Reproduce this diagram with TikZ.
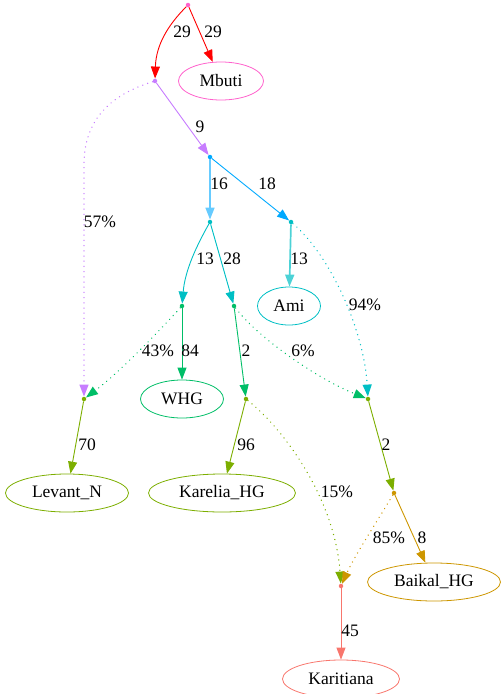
\documentclass[tikz,border=0pt]{standalone}
\usepackage{fontspec}
\setmainfont{Liberation Serif}
\usetikzlibrary{arrows.meta,shapes.geometric}
\definecolor{csalmon}{HTML}{F8766D}
\definecolor{cgold}{HTML}{CD9600}
\definecolor{colive}{HTML}{7CAE00}
\definecolor{cgreen}{HTML}{00BE67}
\definecolor{ccyan}{HTML}{00BFC4}
\definecolor{cblue}{HTML}{00A9FF}
\definecolor{cpurple}{HTML}{C77CFF}
\definecolor{cpink}{HTML}{FF61CC}
\begin{document}
\begin{tikzpicture}[x=1pt,y=-1pt,font=\fontsize{17.5}{20}\selectfont,
  pt/.style={circle,inner sep=0pt,minimum size=4.5pt},
  pop/.style={ellipse,draw,inner sep=0pt,minimum height=38pt,line width=0.8pt},
  edge/.style={line width=0.9pt,-{Triangle[length=12pt,width=9pt]}},
  wide/.style={line width=1.7pt},
  mix/.style={edge,dash pattern=on 0.2pt off 5pt,line cap=round,line width=1.3pt},
  lbl/.style={inner sep=0pt}]
\useasboundingbox (0,0) rectangle (501,694);
% The split points of the tree
\node[pt,fill=cpink] (R) at (188,5) {};
\node[pt,fill=cpurple] (n1) at (155,81) {};
\node[pt,fill=cblue] (n2) at (210,157) {};
\node[pt,fill=ccyan] (n3) at (210,222) {};
\node[pt,fill=ccyan] (n4) at (291,222) {};
\node[pt,fill=cgreen] (n5) at (182,306) {};
\node[pt,fill=cgreen] (n6) at (234,306) {};
\node[pt,fill=colive] (n7) at (84,399) {};
\node[pt,fill=colive] (n8) at (246,399) {};
\node[pt,fill=colive] (n9) at (368,399) {};
\node[pt,fill=cgold] (n10) at (394,493) {};
\node[pt,fill=csalmon] (n11) at (341,586) {};
% The populations at the leaves
\node[pop,draw=cpink,minimum width=85pt] (Mbuti) at (221,81) {Mbuti};
\node[pop,draw=ccyan,minimum width=63pt] (Ami) at (289,306) {Ami};
\node[pop,draw=cgreen,minimum width=83pt] (WHG) at (182,399) {WHG};
\node[pop,draw=colive,minimum width=123pt] (Levant) at (67,493) {Levant\_N};
\node[pop,draw=colive,minimum width=147pt] (Karelia) at (222,493) {Karelia\_HG};
\node[pop,draw=cgold,minimum width=133pt] (Baikal) at (434,582) {Baikal\_HG};
\node[pop,draw=csalmon,minimum width=117pt] (Karitiana) at (341,679) {Karitiana};
% Drift edges
\draw[edge,red] (R) .. controls (168,25) and (156,45) .. (n1);
\draw[edge,red] (R) -- (Mbuti);
\draw[edge,cpurple] (n1) -- (n2);
\draw[edge,wide,cblue!60] (n2) -- (n3);
\draw[edge,cblue] (n2) -- (n4);
\draw[edge,ccyan] (n3) .. controls (197,245) and (185,270) .. (n5);
\draw[edge,ccyan] (n3) -- (n6);
\draw[edge,wide,ccyan!70] (n4) -- (Ami);
\draw[edge,cgreen] (n5) -- (WHG);
\draw[edge,cgreen] (n6) -- (n8);
\draw[edge,colive] (n7) -- (Levant);
\draw[edge,colive] (n8) -- (Karelia);
\draw[edge,colive] (n9) -- (n10);
\draw[edge,cgold] (n10) -- (Baikal);
\draw[edge,csalmon] (n11) -- (Karitiana);
% Admixture edges are dotted
\draw[mix,cpurple] (n1) .. controls (110,95) and (84,120) .. (84,165) -- (n7);
\draw[mix,ccyan] (n4) .. controls (330,255) and (364,330) .. (n9);
\draw[mix,cgreen] (n5) .. controls (160,330) and (120,372) .. (n7);
\draw[mix,cgreen] (n6) .. controls (260,340) and (320,380) .. (n9);
\draw[mix,colive] (n8) .. controls (285,430) and (335,500) .. (n11);
\draw[mix,cgold] (n10) .. controls (378,520) and (355,555) .. (n11);
% Edge labels
\node[lbl] (l1) at (182,32) {29};
\node[lbl] (l2) at (213,32) {29};
\node[lbl] (l3) at (200,127) {9};
\node[lbl] (l4) at (100,222) {57\%};
\node[lbl] (l5) at (219,184) {16};
\node[lbl] (l6) at (267,184) {18};
\node[lbl] (l7) at (205,259) {13};
\node[lbl] (l8) at (232,259) {28};
\node[lbl] (l9) at (299,259) {13};
\node[lbl] (l10) at (365,305) {94\%};
\node[lbl] (l11) at (158,351) {43\%};
\node[lbl] (l12) at (190,351) {84};
\node[lbl] (l13) at (246,351) {2};
\node[lbl] (l14) at (303,351) {6\%};
\node[lbl] (l15) at (87,445) {70};
\node[lbl] (l16) at (246,445) {96};
\node[lbl] (l17) at (386,445) {2};
\node[lbl] (l18) at (337,492) {15\%};
\node[lbl] (l19) at (389,538) {85\%};
\node[lbl] (l20) at (422,538) {8};
\node[lbl] (l21) at (350,631) {45};
\end{tikzpicture}
\end{document}
